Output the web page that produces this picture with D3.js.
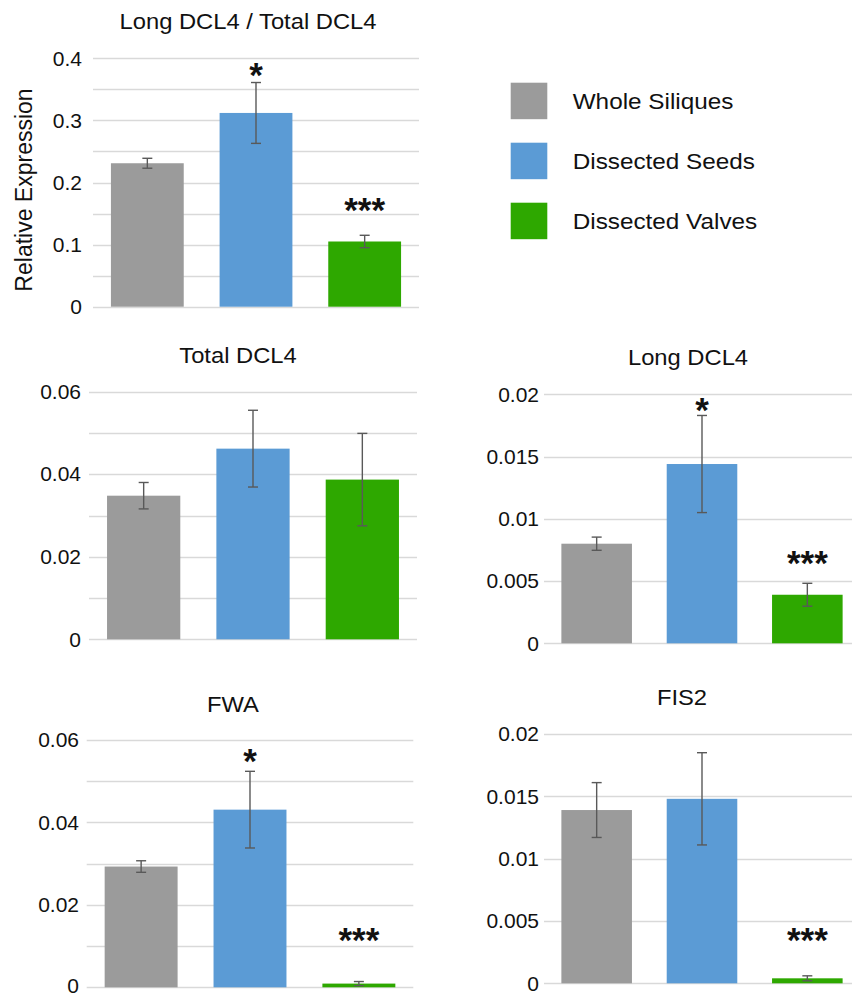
<!DOCTYPE html>
<html>
<head>
<meta charset="utf-8">
<script src="https://cdn.jsdelivr.net/npm/d3@7"></script>
<style>
  body { margin: 0; background: #fff; }
  svg { display: block; font-family: "Liberation Sans", Arial, sans-serif; }
</style>
</head>
<body>
<div id="chartContainer"></div>
<script>
// groups (legend order)
const groups = ["Whole Siliques", "Dissected Seeds", "Dissected Valves"];
const colors = ["#9b9b9b", "#5b9bd5", "#2ea800"];

// Long DCL4 / Total DCL4
const ratioMeans = [0.231, 0.312, 0.105];
const ratioErrs = [0.008, 0.049, 0.010];
const ratioStars = ["", "*", "***"];
const ratioStarY = [null, 0.386, 0.169];
const ratioTicks = [0, 0.1, 0.2, 0.3, 0.4];
const ratioGrid = [0, 0.05, 0.1, 0.15, 0.2, 0.25, 0.3, 0.35, 0.4];

// Total DCL4
const totalMeans = [0.0348, 0.0462, 0.0387];
const totalErrs = [0.0032, 0.0093, 0.0112];
const totalStars = ["", "", ""];
const totalStarY = [null, null, null];
const totalTicks = [0, 0.02, 0.04, 0.06];
const totalGrid = [0, 0.01, 0.02, 0.03, 0.04, 0.05, 0.06];

// Long DCL4
const longMeans = [0.0080, 0.0144, 0.0039];
const longErrs = [0.00053, 0.0039, 0.00092];
const longStars = ["", "*", "***"];
const longStarY = [null, 0.0194, 0.0071];
const longTicks = [0, 0.005, 0.01, 0.015, 0.02];
const longGrid = [0, 0.005, 0.01, 0.015, 0.02];

// FWA
const fwaMeans = [0.0293, 0.0431, 0.0009];
const fwaErrs = [0.0014, 0.0093, 0.0005];
const fwaStars = ["", "*", "***"];
const fwaStarY = [null, 0.0569, 0.0135];
const fwaTicks = [0, 0.02, 0.04, 0.06];
const fwaGrid = [0, 0.01, 0.02, 0.03, 0.04, 0.05, 0.06];

// FIS2
const fisMeans = [0.0139, 0.0148, 0.0004];
const fisErrs = [0.0022, 0.0037, 0.0002];
const fisStars = ["", "", "***"];
const fisStarY = [null, null, 0.0041];
const fisTicks = [0, 0.005, 0.01, 0.015, 0.02];
const fisGrid = [0, 0.005, 0.01, 0.015, 0.02];

const W = 852, H = 996;
const stretch = 1.08; // text in the original is slightly wide
const starSize = 35;

const svg = d3.select("#chartContainer").append("svg")
  .attr("width", W).attr("height", H);

const panels = [
  { title: "Long DCL4 / Total DCL4", means: ratioMeans, errs: ratioErrs, stars: ratioStars, starY: ratioStarY,
    ticks: ratioTicks, grid: ratioGrid, x0: 93, x1: 419, yTop: 58.3, yBot: 306.7, labelX: 82, titleX: 248, titleY: 29 },
  { title: "Total DCL4", means: totalMeans, errs: totalErrs, stars: totalStars, starY: totalStarY,
    ticks: totalTicks, grid: totalGrid, x0: 89, x1: 417, yTop: 391.7, yBot: 639.3, labelX: 81, titleX: 238, titleY: 363 },
  { title: "Long DCL4", means: longMeans, errs: longErrs, stars: longStars, starY: longStarY,
    ticks: longTicks, grid: longGrid, x0: 544, x1: 860, yTop: 394.3, yBot: 643.3, labelX: 539, titleX: 688, titleY: 365 },
  { title: "FWA", means: fwaMeans, errs: fwaErrs, stars: fwaStars, starY: fwaStarY,
    ticks: fwaTicks, grid: fwaGrid, x0: 86.7, x1: 413.3, yTop: 740, yBot: 987.3, labelX: 79, titleX: 233, titleY: 711.7 },
  { title: "FIS2", means: fisMeans, errs: fisErrs, stars: fisStars, starY: fisStarY,
    ticks: fisTicks, grid: fisGrid, x0: 544, x1: 860, yTop: 734, yBot: 983.3, labelX: 539, titleX: 682, titleY: 705 }
];

panels.forEach(drawPanel);

function drawPanel(p) {
  const g = svg.append("g").attr("class", "panel");
  const max = d3.max(p.ticks);

  const x = d3.scaleBand().domain(groups).range([p.x0, p.x1])
    .paddingInner(0.33).paddingOuter(0.165);
  const y = d3.scaleLinear().domain([0, max]).range([p.yBot, p.yTop]);

  // gridlines
  g.append("g")
    .selectAll("line")
    .data(p.grid)
    .enter()
    .append("line")
    .attr("x1", p.x0)
    .attr("x2", p.x1)
    .attr("y1", (d) => Math.round(y(d)) + 0.5)
    .attr("y2", (d) => Math.round(y(d)) + 0.5)
    .attr("stroke", "#d9d9d9")
    .attr("stroke-width", 1.3);

  // y axis labels
  const axis = g.append("g")
    .attr("transform", `translate(${p.labelX},0)`)
    .call(d3.axisLeft(y).tickValues(p.ticks).tickSize(0).tickPadding(0)
      .tickFormat((d) => String(d)));
  axis.select(".domain").remove();
  axis.selectAll("text")
    .attr("font-size", 21)
    .attr("font-family", "Liberation Sans, Arial, sans-serif")
    .attr("fill", "#111");
  // keep the bottom "0" inside the page
  axis.selectAll(".tick")
    .filter((d) => d === 0 && y(0) > H - 12)
    .select("text")
    .attr("dy", "0.25em");

  // bars
  g.append("g")
    .selectAll("rect")
    .data(groups)
    .enter()
    .append("rect")
    .attr("x", (d) => x(d))
    .attr("width", x.bandwidth())
    .attr("y", (d, i) => y(p.means[i]))
    .attr("height", (d, i) => y(0) - y(p.means[i]))
    .attr("fill", (d, i) => colors[i]);

  // error bars
  const eb = g.append("g")
    .selectAll("g")
    .data(groups)
    .enter()
    .append("g")
    .attr("stroke", "#595959")
    .attr("stroke-width", 1.4);
  const cx = (d) => x(d) + x.bandwidth() / 2;
  eb.append("line")
    .attr("x1", cx).attr("x2", cx)
    .attr("y1", (d, i) => y(p.means[i] + p.errs[i]))
    .attr("y2", (d, i) => y(p.means[i] - p.errs[i]));
  [1, -1].forEach((s) => {
    eb.append("line")
      .attr("x1", (d) => cx(d) - 5).attr("x2", (d) => cx(d) + 5)
      .attr("y1", (d, i) => y(p.means[i] + s * p.errs[i]))
      .attr("y2", (d, i) => y(p.means[i] + s * p.errs[i]));
  });

  // significance stars
  g.append("g")
    .selectAll("text")
    .data(groups.filter((d, i) => p.stars[i]))
    .enter()
    .append("text")
    .attr("x", cx)
    .attr("y", (d) => y(p.starY[groups.indexOf(d)]) + 0.58 * starSize)
    .attr("text-anchor", "middle")
    .attr("font-size", starSize)
    .attr("font-weight", "bold")
    .attr("fill", "#111")
    .text((d) => p.stars[groups.indexOf(d)]);

  // title
  g.append("text")
    .attr("transform", `translate(${p.titleX},${p.titleY}) scale(${stretch},1)`)
    .attr("text-anchor", "middle")
    .attr("font-size", 22)
    .attr("fill", "#111")
    .text(p.title);
}

// y axis title
svg.append("text")
  .attr("transform", "translate(32,190) rotate(-90)")
  .attr("text-anchor", "middle")
  .attr("font-size", 23)
  .attr("fill", "#111")
  .text("Relative Expression");

// legend
const legend = svg.append("g")
  .attr("transform", "translate(510.7,82.7)")
  .selectAll(".legend")
  .data(groups)
  .enter()
  .append("g")
  .attr("class", "legend")
  .attr("transform", (d, i) => `translate(0, ${i * 60})`);

legend.append("rect")
  .attr("width", 36.6)
  .attr("height", 36.5)
  .attr("fill", (d, i) => colors[i]);

legend.append("text")
  .attr("transform", `translate(62,18.3) scale(${stretch},1)`)
  .attr("dy", "0.35em")
  .attr("font-size", 22.5)
  .attr("fill", "#111")
  .text((d) => d);
</script>
</body>
</html>
